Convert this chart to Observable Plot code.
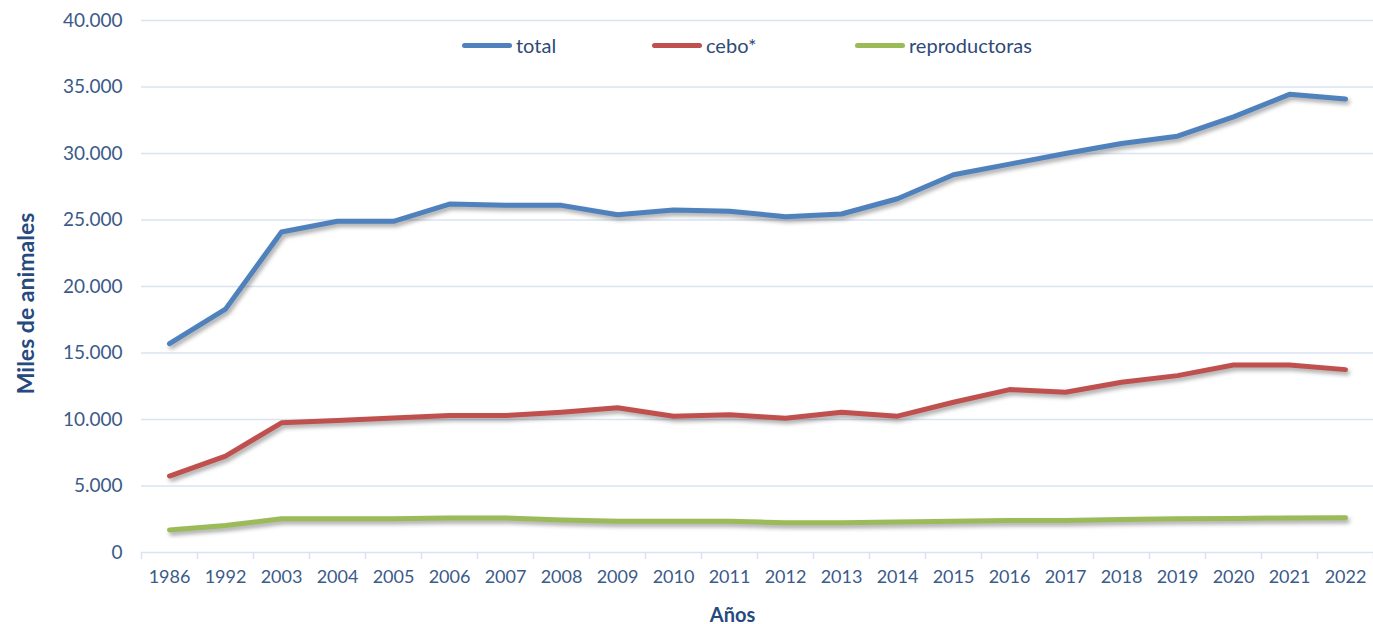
<!DOCTYPE html>
<html>
<head>
<meta charset="utf-8">
<script src="https://cdn.jsdelivr.net/npm/d3@7"></script>
<script src="https://cdn.jsdelivr.net/npm/@observablehq/plot@0.6"></script>
<style>
  html, body { margin: 0; padding: 0; background: #fff; }
  #wrap { position: relative; width: 1373px; height: 624px; font-family: Lato, "Open Sans", sans-serif; }
  .legend { position: absolute; top: 0; left: 0; }
  .item { position: absolute; top: 33px; height: 24px; display: flex; align-items: center; font-size: 20px; color: #2F4A78; white-space: nowrap; }
  .sw { width: 50px; height: 5px; border-radius: 3px; margin-right: 4px; }
</style>
</head>
<body>
<div id="wrap"></div>
<script>
const years = ["1986","1992","2003","2004","2005","2006","2007","2008","2009","2010","2011","2012","2013","2014","2015","2016","2017","2018","2019","2020","2021","2022"];
const total = [15700,18300,24100,24900,24900,26200,26100,26100,25400,25750,25650,25250,25450,26600,28400,29200,30000,30750,31300,32750,34450,34100];
const cebo = [5750,7250,9750,9920,10120,10300,10300,10550,10880,10250,10350,10100,10550,10250,11300,12250,12050,12800,13300,14100,14100,13750];
const reproductoras = [1700,2030,2530,2530,2530,2600,2600,2450,2350,2350,2350,2230,2230,2300,2350,2400,2400,2480,2530,2550,2600,2620];
const seriesNames = ["total","cebo*","reproductoras"];
const seriesColors = ["#4F81BD","#C0504D","#9BBB59"];
const yTicks = [0,5000,10000,15000,20000,25000,30000,35000,40000];

const seriesValues = [total, cebo, reproductoras];
const rows = [];
seriesNames.forEach((name, s) => seriesValues[s].forEach((v, i) => rows.push({series: name, i, year: years[i], value: v})));

const es = d3.formatLocale({decimal: ",", thousands: ".", grouping: [3], currency: ["", "€"]});
const fmt = es.format(",d");

const textColor = "#3B5A89";
const titleColor = "#264A7E";
const gridColor = "#D9E4F2";
const idx = d3.range(years.length);
const bounds = d3.range(years.length + 1).map(k => k - 0.5);

const chart = Plot.plot({
  width: 1373,
  height: 624,
  marginLeft: 141,
  marginRight: 0,
  marginTop: 20,
  marginBottom: 72,
  style: {fontFamily: "Lato, 'Open Sans', sans-serif", fontSize: "19px", color: textColor, background: "#fff"},
  x: {domain: [-0.5, years.length - 0.5]},
  y: {domain: [0, 40000]},
  color: {domain: seriesNames, range: seriesColors},
  marks: [
    Plot.gridY(yTicks, {stroke: gridColor, strokeOpacity: 1, strokeWidth: 1.6}),
    Plot.axisX(bounds, {tickSize: 7, tickFormat: () => "", stroke: gridColor, strokeWidth: 1.6, label: null}),
    Plot.axisX(idx, {tickSize: 0, tickPadding: 18, tickFormat: i => years[i], fill: textColor, fontSize: 18, label: null}),
    Plot.axisY(yTicks, {tickSize: 0, tickPadding: 19, tickFormat: fmt, fill: textColor, fontSize: 19, label: null}),
    Plot.line(rows, {x: "i", y: "value", z: "series", stroke: "series", strokeWidth: 5, strokeLinejoin: "round", strokeLinecap: "round"}),
    Plot.text(["Miles de animales"], {frameAnchor: "left", textAnchor: "middle", dx: -115, dy: 17, rotate: -90, fontWeight: "bold", fontSize: 23, fill: titleColor}),
    Plot.text(["Años"], {frameAnchor: "bottom", dx: -25, dy: 69, fontWeight: "bold", fontSize: 20, fill: titleColor})
  ]
});

const wrap = document.getElementById("wrap");
wrap.appendChild(chart);
chart.querySelectorAll('g[aria-label="line"]').forEach(g => g.setAttribute("style", "filter: drop-shadow(2px 3px 2px rgba(0,0,0,0.35))"));

// legend overlay
const legend = document.createElement("div");
legend.className = "legend";
const lefts = [462, 652, 855];
seriesNames.forEach((name, k) => {
  const it = document.createElement("div");
  it.className = "item";
  it.style.left = lefts[k] + "px";
  const sw = document.createElement("span");
  sw.className = "sw";
  sw.style.background = seriesColors[k];
  const t = document.createElement("span");
  t.textContent = name;
  it.appendChild(sw); it.appendChild(t);
  legend.appendChild(it);
});
wrap.appendChild(legend);
</script>
</body>
</html>
